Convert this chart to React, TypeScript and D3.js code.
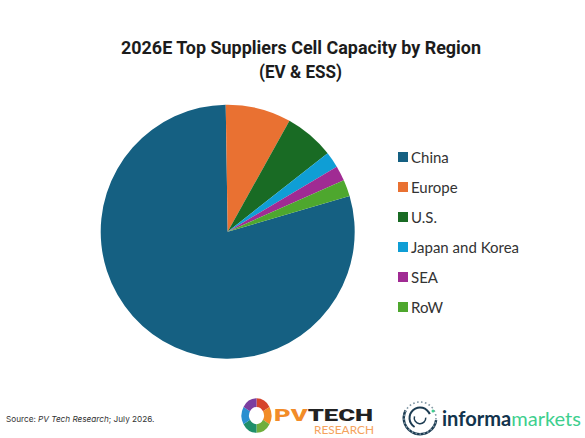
import React from 'react';
import * as d3 from 'd3';

const categories = ['China', 'Europe', 'U.S.', 'Japan and Korea', 'SEA', 'RoW'];
const shares = [79.28, 8.33, 6.33, 2.03, 1.92, 2.11];
const colors = ['#156082', '#E97132', '#196B24', '#0F9ED5', '#A02B93', '#4EA72E'];

const logoColors = ['#d6452c', '#f28c28', '#6fae3c', '#1f8f6a', '#2a8fd0', '#7b3fa0'];

const font = 'Lato, "Open Sans", sans-serif';

const App: React.FC = () => {
  const pie = d3.pie<number>()
    .sort(null)
    .startAngle((73.7 * Math.PI) / 180)
    .endAngle((433.7 * Math.PI) / 180);
  const arc = d3.arc<d3.PieArcDatum<number>>().innerRadius(0).outerRadius(127);
  const slices = pie(shares);

  const legendY = d3.scalePoint<string>().domain(categories).range([157, 307]);

  const logoPie = d3.pie<string>().value(1).sort(null)(logoColors);
  const logoArc = d3.arc<d3.PieArcDatum<string>>().innerRadius(7.5).outerRadius(15);

  const ringArc = d3.arc<any>();

  return (
    <svg width={585} height={438} style={{ position: 'absolute', left: 0, top: 0, background: '#fff' }}>
      <g textAnchor="middle" fontFamily="Roboto, sans-serif" fontWeight={700} fontSize={18.5} fill="#1c1c1c">
        <text x={301} y={54} textLength={360} lengthAdjust="spacingAndGlyphs">2026E Top Suppliers Cell Capacity by Region</text>
        <text x={300.5} y={78} textLength={83} lengthAdjust="spacingAndGlyphs">(EV &amp; ESS)</text>
      </g>

      <g transform="translate(227.7,231.7)">
        {slices.map((d, i) => (
          <path key={categories[i]} d={arc(d) ?? ''} fill={colors[i]} />
        ))}
      </g>

      <g fontFamily={font} fontSize={15} fill="#333">
        {categories.map((c, i) => (
          <g key={c} transform={`translate(0,${legendY(c)})`}>
            <rect x={398} y={-5} width={10} height={10} fill={colors[i]} />
            <text x={411} y={5.5}>{c}</text>
          </g>
        ))}
      </g>

      <text x={6} y={422} fontFamily="Inter, sans-serif" fontSize={8.2} fill="#333">
        Source: <tspan fontStyle="italic">PV Tech Research</tspan>; July 2026.
      </text>

      {/* PV Tech logo */}
      <g transform="translate(256.5,415.5) scale(1,1.15)">
        {logoPie.map((d, i) => (
          <path key={i} d={logoArc(d) ?? ''} fill={d.data} />
        ))}
      </g>
      <text x={274} y={421} fontFamily="Roboto, sans-serif" fontWeight={900} fontSize={17} fill="#f28c28" textLength={99} lengthAdjust="spacingAndGlyphs">
        PV<tspan fill="#222">TECH</tspan>
      </text>
      <text x={314} y={434} fontFamily={font} fontSize={11.5} fill="#f5a25d" textLength={60} lengthAdjust="spacingAndGlyphs">RESEARCH</text>

      {/* informa markets logo */}
      <g transform="translate(420,418)" fill="#1d3c52">
        <path d={ringArc({ innerRadius: 15, outerRadius: 17.5, startAngle: 1.7, endAngle: 5.2 }) ?? ''} />
        <path d={ringArc({ innerRadius: 9.5, outerRadius: 11.5, startAngle: -2.6, endAngle: 1.2 }) ?? ''} />
        <path d={ringArc({ innerRadius: 5, outerRadius: 6.5, startAngle: 1.5, endAngle: 5 }) ?? ''} />
        <circle r={16} fill="none" stroke="#7f95a3" strokeWidth={1.6} strokeDasharray="1.6 2.4" pathLength={100} />
        <circle cx={13} cy={-7} r={1.5} fill="#3ecf8e" />
      </g>
      <text x={442} y={426} fontFamily={font} fontWeight={700} fontSize={20} fill="#12344d" textLength={139} lengthAdjust="spacingAndGlyphs">
        informa<tspan fill="#3ecf8e" fontWeight={400}>markets</tspan>
      </text>
    </svg>
  );
};

export default App;
